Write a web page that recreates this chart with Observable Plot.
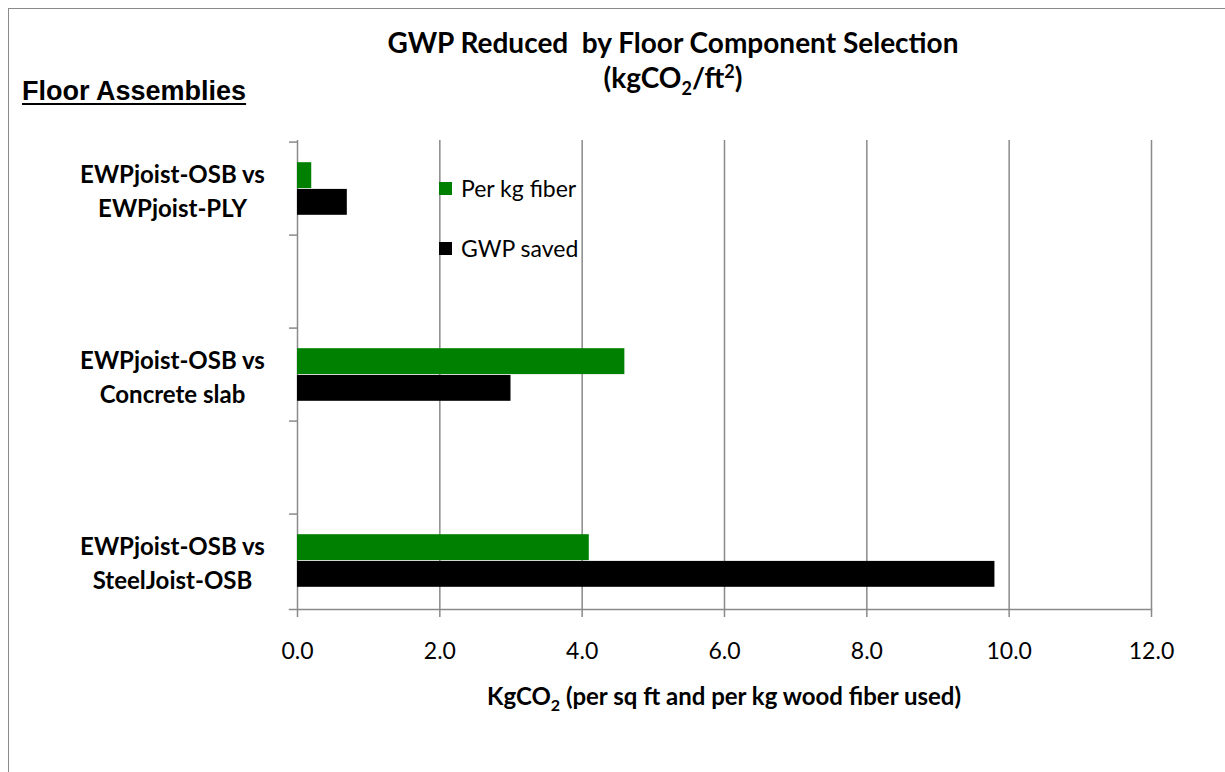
<!DOCTYPE html>
<html>
<head>
<meta charset="utf-8">
<script src="https://cdn.jsdelivr.net/npm/d3@7"></script>
<script src="https://cdn.jsdelivr.net/npm/@observablehq/plot@0.6"></script>
<style>
  html, body { margin: 0; padding: 0; background: #fff; }
  body { width: 1225px; height: 772px; overflow: hidden; position: relative; font-family: Lato, "Open Sans", sans-serif; }
  #border { position: absolute; left: 8px; top: 8px; width: 1400px; height: 900px; border: 1.5px solid #8a8a8a; box-sizing: border-box; }
  #title { position: absolute; left: 0; width: 1346px; top: 25px; text-align: center; font-weight: bold; font-size: 28px; line-height: 35px; color: #000; }
  #title sub, #title sup { font-size: 18px; line-height: 0; }
  #floor { position: absolute; left: 22px; top: 76px; font-family: "Liberation Sans", Arial, sans-serif; font-weight: bold; font-size: 27px; text-decoration: underline; text-decoration-thickness: 2px; text-underline-offset: 3px; }
  #chart { position: absolute; left: 0; top: 0; }
  #xlabel { position: absolute; left: 297px; width: 854px; top: 681px; text-align: center; font-weight: bold; font-size: 24px; }
  #xlabel sub { font-size: 16px; line-height: 0; }
  #legend { position: absolute; left: 439px; top: 172px; font-size: 23px; }
  #legend .item { display: flex; align-items: center; height: 32px; margin-bottom: 28px; }
  #legend .sw { width: 13px; height: 13px; margin-right: 9px; }
</style>
</head>
<body>
<div id="border"></div>
<div id="title">GWP Reduced&nbsp; by Floor Component Selection<br>(kgCO<sub>2</sub>/ft<sup>2</sup>)</div>
<div id="floor">Floor Assemblies</div>
<div id="chart"></div>
<div id="xlabel">KgCO<sub>2</sub> (per sq ft and per kg wood fiber used)</div>
<div id="legend"></div>
<script>
// ---- data ----
const categories = ["EWPjoist-OSB vs\nEWPjoist-PLY", "EWPjoist-OSB vs\nConcrete slab", "EWPjoist-OSB vs\nSteelJoist-OSB"];
const perKgFiber = [0.2, 4.6, 4.1];
const gwpSaved = [0.7, 3.0, 9.8];
const seriesNames = ["Per kg fiber", "GWP saved"];
const seriesColors = ["#008000", "#000000"];
const xTicks = [0, 2, 4, 6, 8, 10, 12];
const gridTicks = [2, 4, 6, 8, 10, 12];

// category slots with blank rows between them (as in the original sheet)
const slots = [categories[0], "gap1", categories[1], "gap2", categories[2]];
const fiberRows = categories.map((c, i) => ({cat: c, value: perKgFiber[i]}));
const gwpRows = categories.map((c, i) => ({cat: c, value: gwpSaved[i]}));

const W = 1225, H = 680;
const mL = 297, mR = W - 1151, mT = 140, mB = H - 609;
const band = (H - mT - mB) / slots.length;
const barH = 26.7;
const inset = (band - barH) / 2;
const gray = "#8a8a8a";

const chart = Plot.plot({
  width: W,
  height: H,
  marginLeft: mL,
  marginRight: mR,
  marginTop: mT,
  marginBottom: mB,
  style: {fontFamily: "Lato, sans-serif", background: "transparent", color: "#000"},
  x: {domain: [0, 12]},
  y: {domain: slots, padding: 0},
  marks: [
    Plot.ruleX(gridTicks, {stroke: gray, strokeWidth: 1.5}),
    Plot.ruleX([0], {stroke: gray, strokeWidth: 1.5}),
    // category-boundary ticks on the left axis (band edges)
    Plot.ruleY(slots, {y: d => d, dy: -band / 2, stroke: gray, strokeWidth: 1.5, insetLeft: -8, insetRight: W - mL - mR}),
    Plot.frame({anchor: "bottom", stroke: gray, strokeWidth: 1.5, insetLeft: -8}),
    Plot.barX(fiberRows, {y: "cat", x: "value", fill: seriesColors[0], insetTop: inset, insetBottom: inset, dy: -barH / 2}),
    Plot.barX(gwpRows, {y: "cat", x: "value", fill: seriesColors[1], insetTop: inset, insetBottom: inset, dy: barH / 2}),
    Plot.axisX({ticks: xTicks, tickSize: 8, tickPadding: 25, stroke: gray, strokeWidth: 1.5, tickFormat: d3.format(".1f"), fontSize: 23, label: null}),
    Plot.axisY({ticks: categories, tickSize: 0, tickPadding: 125, textAnchor: "middle", fontSize: 24, fontWeight: "bold", lineHeight: 1.42, label: null})
  ]
});
document.getElementById("chart").appendChild(chart);

const legend = document.getElementById("legend");
seriesNames.forEach((name, i) => {
  const item = document.createElement("div");
  item.className = "item";
  const sw = document.createElement("div");
  sw.className = "sw";
  sw.style.background = seriesColors[i];
  const tx = document.createElement("span");
  tx.textContent = name;
  item.appendChild(sw);
  item.appendChild(tx);
  legend.appendChild(item);
});
</script>
</body>
</html>
